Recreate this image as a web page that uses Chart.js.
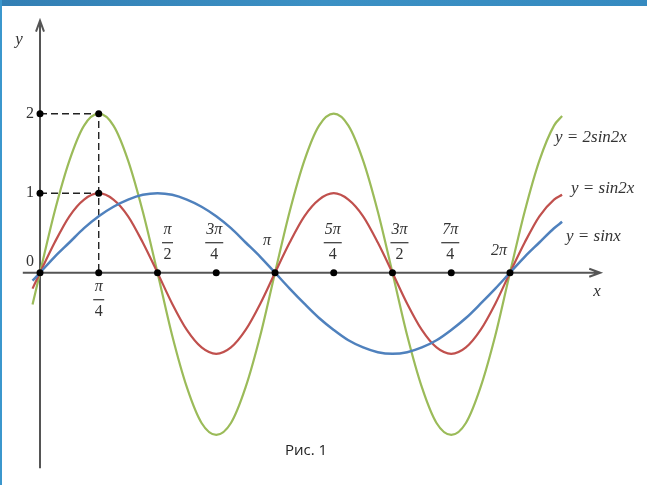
<!DOCTYPE html>
<html>
<head>
<meta charset="utf-8">
<script src="https://cdn.jsdelivr.net/npm/chart.js@4"></script>
<style>
  html, body { margin: 0; padding: 0; background: #fff; }
  #wrap { position: relative; width: 647px; height: 485px; overflow: hidden; }
  #chart { position: absolute; left: 0; top: 0; }
  .frameTop { position: absolute; left: 0; top: 0; width: 647px; height: 6px; background: linear-gradient(90deg, #337fb4, #3b90c4 50%, #358ac0); }
  .frameLeft { position: absolute; left: 0; top: 0; width: 2px; height: 485px; background: #3b97cd; }
</style>
</head>
<body>
<div id="wrap">
  <canvas id="chart" width="647" height="485"></canvas>
  <div class="frameTop"></div>
  <div class="frameLeft"></div>
</div>
<script>
// x in radians (the drawing dips a little deeper below the axis)
const xVals = [-0.10, 0, 0.196, 0.393, 0.589, 0.785, 0.982, 1.178, 1.374, 1.571, 1.767, 1.963, 2.160, 2.356, 2.553, 2.749, 2.945, 3.142,
  3.338, 3.534, 3.731, 3.927, 4.123, 4.320, 4.516, 4.712, 4.909, 5.105, 5.301, 5.498, 5.694, 5.890, 6.087, 6.283, 6.480, 6.676, 6.872, 6.98];
const sinX = [-0.10, 0, 0.20, 0.38, 0.56, 0.71, 0.83, 0.92, 0.98, 1, 0.98, 0.92, 0.83, 0.71, 0.56, 0.38, 0.20, 0,
  -0.20, -0.39, -0.57, -0.72, -0.85, -0.94, -1.00, -1.02, -1.00, -0.94, -0.85, -0.72, -0.57, -0.39, -0.20, 0, 0.20, 0.38, 0.56, 0.64];
const sin2X = [-0.20, 0, 0.38, 0.71, 0.92, 1, 0.92, 0.71, 0.38, 0, -0.39, -0.72, -0.94, -1.02, -0.94, -0.72, -0.39, 0,
  0.38, 0.71, 0.92, 1, 0.92, 0.71, 0.38, 0, -0.39, -0.72, -0.94, -1.02, -0.94, -0.72, -0.39, 0, 0.38, 0.71, 0.92, 0.98];
const twoSin2X = [-0.40, 0, 0.77, 1.41, 1.85, 2, 1.85, 1.41, 0.77, 0, -0.79, -1.44, -1.89, -2.04, -1.89, -1.44, -0.79, 0,
  0.77, 1.41, 1.85, 2, 1.85, 1.41, 0.77, 0, -0.79, -1.44, -1.89, -2.04, -1.89, -1.44, -0.79, 0, 0.77, 1.41, 1.85, 1.97];

// ticks on the x axis (multiples of pi/4)
const piTicks = [0.785, 1.571, 2.356, 3.142, 3.927, 4.712, 5.498, 6.283];
const piNum = ['π', 'π', '3π', 'π', '5π', '3π', '7π', '2π'];
const piDen = ['4', '2', '4', '', '4', '2', '4', ''];
const yTicks = [1, 2];

// dashed guides to the points (pi/4, 2) and (pi/4, 1)
const guideX = [0, 0.785, 0.785];
const guideY = [2, 2, 0];
const guide1X = [0, 0.785];
const guide1Y = [1, 1];

const seriesNames = ['y = sinx', 'y = sin2x', 'y = 2sin2x'];

const toPts = (xs, ys) => xs.map((x, i) => ({ x: x, y: ys[i] }));

const dots = [{ x: 0, y: 0 }, { x: 0, y: 1 }, { x: 0, y: 2 }, { x: 0.785, y: 1 }, { x: 0.785, y: 2 }]
  .concat(piTicks.map(t => ({ x: t, y: 0 })));

const SERIF = '"Liberation Serif", "DejaVu Serif", serif';

const axesPlugin = {
  id: 'axes',
  beforeDatasetsDraw(chart) {
    const ctx = chart.ctx;
    const xs = chart.scales.x, ys = chart.scales.y;
    const x0 = xs.getPixelForValue(0), y0 = ys.getPixelForValue(0);
    const yTop = ys.getPixelForValue(3.17), yBot = ys.getPixelForValue(-2.46);
    const xLeft = xs.getPixelForValue(-0.23), xRight = xs.getPixelForValue(7.49);
    ctx.save();
    ctx.strokeStyle = '#555';
    ctx.lineWidth = 2;
    ctx.beginPath();
    ctx.moveTo(x0, yBot); ctx.lineTo(x0, yTop);
    ctx.moveTo(x0 - 4, yTop + 11); ctx.lineTo(x0, yTop); ctx.lineTo(x0 + 4, yTop + 11);
    ctx.moveTo(xLeft, y0); ctx.lineTo(xRight, y0);
    ctx.moveTo(xRight - 11, y0 - 4); ctx.lineTo(xRight, y0); ctx.lineTo(xRight - 11, y0 + 4);
    ctx.stroke();
    ctx.restore();
  },
  afterDraw(chart) {
    const ctx = chart.ctx;
    const xs = chart.scales.x, ys = chart.scales.y;
    const x0 = xs.getPixelForValue(0), y0 = ys.getPixelForValue(0);
    ctx.save();
    ctx.fillStyle = '#333';
    ctx.strokeStyle = '#333';
    ctx.textBaseline = 'middle';

    // axis names
    ctx.font = 'italic 17px ' + SERIF;
    ctx.textAlign = 'center';
    ctx.fillText('y', 19, 40);
    ctx.fillText('x', 597, 292);

    // y ticks and origin
    ctx.font = '16px ' + SERIF;
    ctx.textAlign = 'right';
    yTicks.forEach(v => ctx.fillText(String(v), x0 - 6, ys.getPixelForValue(v)));
    ctx.fillText('0', x0 - 6, y0 - 11);

    // x tick labels as fractions
    const shift = [0, 10, -2, -8, -1, 7, -1, -11];
    piTicks.forEach((t, i) => {
      const cx = xs.getPixelForValue(t) + shift[i];
      ctx.textAlign = 'center';
      ctx.font = 'italic 16px ' + SERIF;
      if (!piDen[i]) {
        ctx.fillText(piNum[i], cx, i === 3 ? y0 - 32 : y0 - 22);
        return;
      }
      const below = i === 0;
      const top = below ? y0 + 14 : y0 - 43;
      ctx.fillText(piNum[i], cx, top);
      const w = Math.max(ctx.measureText(piNum[i]).width + 2, 11);
      ctx.lineWidth = 1.2;
      ctx.beginPath();
      ctx.moveTo(cx - w / 2, top + 13); ctx.lineTo(cx + w / 2, top + 13);
      ctx.stroke();
      ctx.font = '16px ' + SERIF;
      ctx.fillText(piDen[i], cx, top + 25);
    });

    // series names
    ctx.font = 'italic 17px ' + SERIF;
    ctx.textAlign = 'left';
    ctx.fillText(seriesNames[2], 555, 138);
    ctx.fillText(seriesNames[1], 571, 189);
    ctx.fillText(seriesNames[0], 566, 237);

    // caption
    ctx.font = '15px "Open Sans", "Liberation Sans", sans-serif';
    ctx.textAlign = 'center';
    ctx.fillStyle = '#222';
    ctx.fillText('Рис. 1', 306, 451);
    ctx.restore();
  }
};

new Chart(document.getElementById('chart'), {
  type: 'scatter',
  data: {
    datasets: [
      { data: toPts(guideX, guideY), order: 2, showLine: true, borderColor: '#222', borderWidth: 1.4, borderDash: [7, 4], pointRadius: 0, tension: 0 },
      { data: toPts(guide1X, guide1Y), order: 2, showLine: true, borderColor: '#222', borderWidth: 1.4, borderDash: [7, 4], pointRadius: 0, tension: 0 },
      { label: seriesNames[0], data: toPts(xVals, sinX), order: 1, showLine: true, borderColor: '#4f81bd', borderWidth: 2.5, pointRadius: 0, cubicInterpolationMode: 'monotone' },
      { label: seriesNames[1], data: toPts(xVals, sin2X), order: 1, showLine: true, borderColor: '#c0504d', borderWidth: 2.2, pointRadius: 0, cubicInterpolationMode: 'monotone' },
      { label: seriesNames[2], data: toPts(xVals, twoSin2X), order: 1, showLine: true, borderColor: '#9bbb59', borderWidth: 2.2, pointRadius: 0, cubicInterpolationMode: 'monotone' },
      { data: dots, order: 0, showLine: false, pointRadius: 3.5, pointBackgroundColor: '#000', pointBorderColor: '#000', pointBorderWidth: 0 }
    ]
  },
  options: {
    responsive: false,
    animation: false,
    layout: { padding: 0, autoPadding: false },
    plugins: { legend: { display: false }, tooltip: { enabled: false } },
    scales: {
      x: { type: 'linear', min: -0.5348, max: 8.115, display: false },
      y: { type: 'linear', min: -2.670, max: 3.430, display: false }
    }
  },
  plugins: [axesPlugin]
});
</script>
</body>
</html>
